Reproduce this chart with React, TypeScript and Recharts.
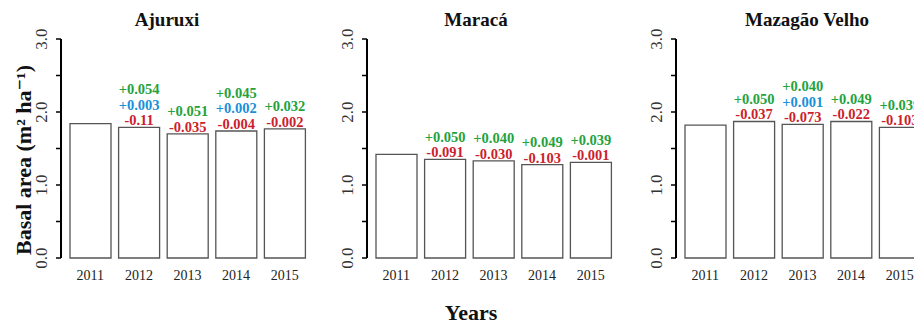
import { BarChart, Bar, XAxis, YAxis, LabelList } from "recharts";

const years = ["2011", "2012", "2013", "2014", "2015"];

const ajuruxiBasal = [1.84, 1.79, 1.7, 1.74, 1.77];
const ajuruxiGain = ["", "+0.054", "+0.051", "+0.045", "+0.032"];
const ajuruxiRecruit = ["", "+0.003", "", "+0.002", ""];
const ajuruxiLoss = ["", "-0.11", "-0.035", "-0.004", "-0.002"];

const maracaBasal = [1.42, 1.35, 1.33, 1.28, 1.31];
const maracaGain = ["", "+0.050", "+0.040", "+0.049", "+0.039"];
const maracaRecruit = ["", "", "", "", ""];
const maracaLoss = ["", "-0.091", "-0.030", "-0.103", "-0.001"];

const mazagaoBasal = [1.82, 1.87, 1.83, 1.87, 1.79];
const mazagaoGain = ["", "+0.050", "+0.040", "+0.049", "+0.039"];
const mazagaoRecruit = ["", "", "+0.001", "", ""];
const mazagaoLoss = ["", "-0.037", "-0.073", "-0.022", "-0.103"];

const yTicks = [0, 0.5, 1, 1.5, 2, 2.5, 3];

const SERIF = "'Liberation Serif', 'DejaVu Serif', serif";
const GREEN = "#23a23d";
const BLUE = "#1a90d8";
const RED = "#cc1f2e";

function YTick(props: any) {
  const { x, y, payload } = props;
  if (payload.value % 1 !== 0) return <g />;
  const tx = x - 7;
  return (
    <text
      x={tx}
      y={y}
      transform={`rotate(-90, ${tx}, ${y})`}
      textAnchor="middle"
      fontFamily={SERIF}
      fontSize={17}
      fill="#333"
    >
      {payload.value.toFixed(1)}
    </text>
  );
}

function XTick(props: any) {
  const { x, y, payload } = props;
  return (
    <text x={x} y={y + 22} textAnchor="middle" fontFamily={SERIF} fontSize={14} fill="#222">
      {payload.value}
    </text>
  );
}

interface PanelProps {
  left: number;
  basal: number[];
  gain: string[];
  recruit: string[];
  loss: string[];
}

function Panel({ left, basal, gain, recruit, loss }: PanelProps) {
  const rows = years.map((year, i) => ({ year, basal: basal[i] }));

  // stacked change labels above each bar: loss (red), recruits (blue), growth (green)
  const renderChanges = (p: any) => {
    const { x, y, width, index } = p;
    const cx = x + width / 2;
    const lines: { text: string; color: string }[] = [];
    if (loss[index]) lines.push({ text: loss[index], color: RED });
    if (recruit[index]) lines.push({ text: recruit[index], color: BLUE });
    if (gain[index]) lines.push({ text: gain[index], color: GREEN });
    return (
      <g>
        {lines.map((l, k) => (
          <text
            key={k}
            x={cx}
            y={y - 2 - k * 15.5}
            textAnchor="middle"
            fontFamily={SERIF}
            fontWeight="bold"
            fontSize={14.5}
            fill={l.color}
          >
            {l.text}
          </text>
        ))}
      </g>
    );
  };

  return (
    <div style={{ position: "absolute", left, top: 0 }}>
      <BarChart
        width={310}
        height={329}
        data={rows}
        margin={{ top: 39, right: 1, bottom: 41, left: 0 }}
      >
        <XAxis
          dataKey="year"
          height={30}
          axisLine={false}
          tickLine={false}
          tickSize={0}
          tickMargin={0}
          padding={{ left: 5, right: 0 }}
          tick={<XTick />}
          interval={0}
        />
        <YAxis
          width={61}
          domain={[0, 3]}
          ticks={yTicks}
          interval={0}
          axisLine={{ stroke: "#000", strokeWidth: 2 }}
          tickLine={{ stroke: "#000", strokeWidth: 1.5 }}
          tickSize={5}
          tickMargin={2}
          tick={<YTick />}
        />
        <Bar
          dataKey="basal"
          fill="#fff"
          stroke="#555"
          strokeWidth={1.3}
          barSize={41}
          isAnimationActive={false}
        >
          <LabelList dataKey="basal" content={renderChanges} />
        </Bar>
      </BarChart>
    </div>
  );
}

export default function App() {
  return (
    <div
      style={{
        position: "absolute",
        left: 0,
        top: 0,
        width: 914,
        height: 329,
        overflow: "hidden",
        background: "#fff",
      }}
    >
      <Panel left={0} basal={ajuruxiBasal} gain={ajuruxiGain} recruit={ajuruxiRecruit} loss={ajuruxiLoss} />
      <Panel left={306} basal={maracaBasal} gain={maracaGain} recruit={maracaRecruit} loss={maracaLoss} />
      <Panel left={615} basal={mazagaoBasal} gain={mazagaoGain} recruit={mazagaoRecruit} loss={mazagaoLoss} />
      <svg
        width={914}
        height={329}
        style={{ position: "absolute", left: 0, top: 0, pointerEvents: "none" }}
        fontFamily={SERIF}
        fontWeight="bold"
        fill="#111"
      >
        <text x={167} y={25.5} textAnchor="middle" fontSize={19}>Ajuruxi</text>
        <text x={476} y={25.5} textAnchor="middle" fontSize={19}>Maracá</text>
        <text x={807} y={25.5} textAnchor="middle" fontSize={19}>Mazagão Velho</text>
        <text
          x={31}
          y={160}
          transform="rotate(-90, 31, 160)"
          textAnchor="middle"
          fontSize={22}
        >
          Basal area (m² ha⁻¹)
        </text>
        <text x={471} y={320} textAnchor="middle" fontSize={22}>Years</text>
      </svg>
    </div>
  );
}
